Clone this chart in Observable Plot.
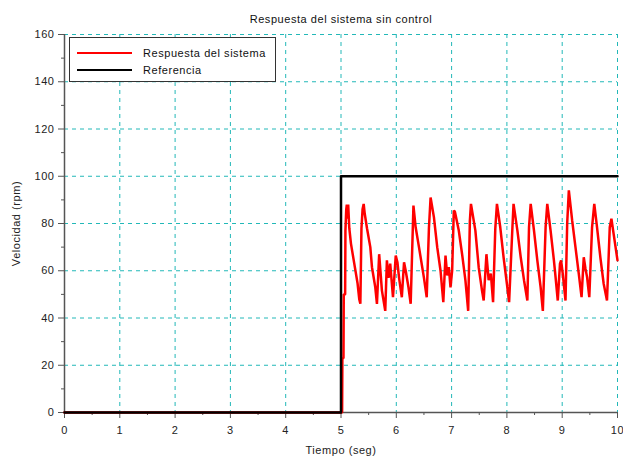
<!DOCTYPE html>
<html>
<head>
<meta charset="utf-8">
<script src="https://cdn.jsdelivr.net/npm/d3@7"></script>
<script src="https://cdn.jsdelivr.net/npm/@observablehq/plot@0.6"></script>
<style>
  html, body { margin: 0; padding: 0; background: white; }
  #wrap { position: relative; width: 623px; height: 459px; font-family: "Liberation Sans", Arial, sans-serif; }
  #legend { position: absolute; left: 69px; top: 37px; width: 207px; height: 45px; background: white;
            border: 1.5px solid #333; box-sizing: border-box; font-size: 11px; letter-spacing: 0.55px; color: #111; }
  .row { position: absolute; left: 7px; height: 14px; display: flex; align-items: center; }
  .sw { width: 55px; height: 0; border-top: 2.5px solid; margin-right: 11px; }
</style>
</head>
<body>
<div id="wrap"></div>
<script>
const chartTitle = "Respuesta del sistema sin control";
const xLabel = "Tiempo (seg)";
const yLabel = "Velocidad (rpm)";
const seriesNames = ["Respuesta del sistema", "Referencia"];

const xTicks = [0,1,2,3,4,5,6,7,8,9,10];
const yTicks = [0,20,40,60,80,100,120,140,160];

const refTime = [0, 5, 10];
const refValue = [0, 100, 100];

const respTime = [0, 5.0, 5.02, 5.025, 5.045, 5.05, 5.075, 5.08, 5.095, 5.105, 5.12, 5.13, 5.15, 5.18, 5.24, 5.30, 5.33, 5.35,
  5.37, 5.39, 5.41, 5.43, 5.47, 5.53, 5.56, 5.62, 5.65, 5.69, 5.74, 5.80, 5.83, 5.86, 5.89, 5.94, 5.99, 6.02, 6.05, 6.10,
  6.14, 6.17, 6.22, 6.26, 6.31, 6.35, 6.41, 6.50, 6.55, 6.59, 6.62, 6.68, 6.74, 6.80, 6.85, 6.89, 6.92, 6.95, 6.98, 7.01,
  7.04, 7.06, 7.13, 7.19, 7.25, 7.30, 7.33, 7.35, 7.43, 7.49, 7.55, 7.58, 7.63, 7.67, 7.71, 7.75, 7.79, 7.82, 7.88, 7.94,
  8.00, 8.04, 8.10, 8.12, 8.19, 8.25, 8.31, 8.37, 8.40, 8.43, 8.49, 8.55, 8.61, 8.65, 8.70, 8.73, 8.79, 8.85, 8.88, 8.92,
  8.96, 8.98, 9.01, 9.06, 9.09, 9.12, 9.18, 9.24, 9.30, 9.35, 9.39, 9.42, 9.45, 9.49, 9.54, 9.58, 9.63, 9.69, 9.75, 9.81,
  9.86, 9.89, 9.93, 10.0];
const respValue = [0, 0, 0, 23, 23, 50, 50, 77, 86, 88, 82, 88, 78, 71.5, 63, 54.6, 48, 46,
  78, 86, 88.3, 84, 78, 70, 61.5, 53, 46, 67, 51.6, 43, 64.4, 57, 63, 48.8, 66.4, 63.6, 57, 48.8,
  63.6, 60, 53, 46, 87.6, 78.4, 70, 57, 48.8, 78, 91, 82.7, 70, 60, 46.7, 66.4, 58, 61.5, 53, 60,
  85.5, 85, 77, 67, 55.9, 43, 81, 88.3, 77, 61.5, 51.6, 47.4, 67, 56, 58.8, 46.7, 77.8, 88.3, 78.4, 65.7,
  54.5, 46.7, 78.4, 88.3, 77, 65.7, 55.9, 47.4, 78.4, 88.3, 77, 64.4, 53, 43, 78.4, 88.3, 77, 64.4, 57.3, 47.4,
  63, 64.4, 58.7, 47.4, 79.9, 94, 81.3, 70, 58.7, 48.8, 65.7, 61, 57.3, 48.8, 78.4, 88.3, 78.4, 65.7, 54.5, 47.4,
  78.4, 82, 75.6, 64.4];

const resp = respTime.map((t, i) => ({t, v: respValue[i]}));
const ref = refTime.map((t, i) => ({t, v: refValue[i]}));
const xMinor = d3.range(0.5, 10, 1);
const yMinor = d3.range(10, 160, 20);

const gridColor = "#22b8b8";
const axisColor = "#555";

const chart = Plot.plot({
  width: 623, height: 459,
  marginLeft: 64, marginRight: 6, marginTop: 34, marginBottom: 47,
  style: {fontFamily: "Liberation Sans, Arial, sans-serif", fontSize: "11px", background: "white", color: "#222", letterSpacing: "0.55px"},
  x: {domain: [0, 10]},
  y: {domain: [0, 160]},
  marks: [
    Plot.gridX(xTicks.slice(1), {stroke: gridColor, strokeOpacity: 1, strokeWidth: 1, strokeDasharray: "4,4"}),
    Plot.gridY(yTicks.slice(1), {stroke: gridColor, strokeOpacity: 1, strokeWidth: 1, strokeDasharray: "4,4"}),
    Plot.ruleX([0], {stroke: axisColor, strokeWidth: 1.5}),
    Plot.ruleY([0], {stroke: axisColor, strokeWidth: 1.5}),
    Plot.axisX({ticks: xTicks, tickSize: 6, tickPadding: 8, stroke: axisColor, label: xLabel, labelAnchor: "center", labelArrow: "none", labelOffset: 41}),
    Plot.axisX({ticks: xMinor, tickSize: 3, tickFormat: () => "", stroke: axisColor, label: null}),
    Plot.axisY({ticks: yTicks, tickSize: 6, tickPadding: 4, stroke: axisColor, label: yLabel, labelAnchor: "center", labelArrow: "none", labelOffset: 52}),
    Plot.axisY({ticks: yMinor, tickSize: 3, tickFormat: () => "", stroke: axisColor, label: null}),
    Plot.line(resp, {x: "t", y: "v", stroke: "#ff0000", strokeWidth: 2.5, strokeLinejoin: "miter"}),
    Plot.line(ref, {x: "t", y: "v", stroke: "black", strokeWidth: 2.5, curve: "step-after"}),
    Plot.text([chartTitle], {frameAnchor: "top", dy: -19, fontSize: 11, fill: "#111"})
  ]
});

const wrap = document.getElementById("wrap");
wrap.appendChild(chart);
const leg = document.createElement("div");
leg.id = "legend";
leg.innerHTML = `<div class="row" style="top:8px"><span class="sw" style="border-color:#ff0000"></span>${seriesNames[0]}</div>
<div class="row" style="top:25px"><span class="sw" style="border-color:#000"></span>${seriesNames[1]}</div>`;
wrap.appendChild(leg);
</script>
</body>
</html>
